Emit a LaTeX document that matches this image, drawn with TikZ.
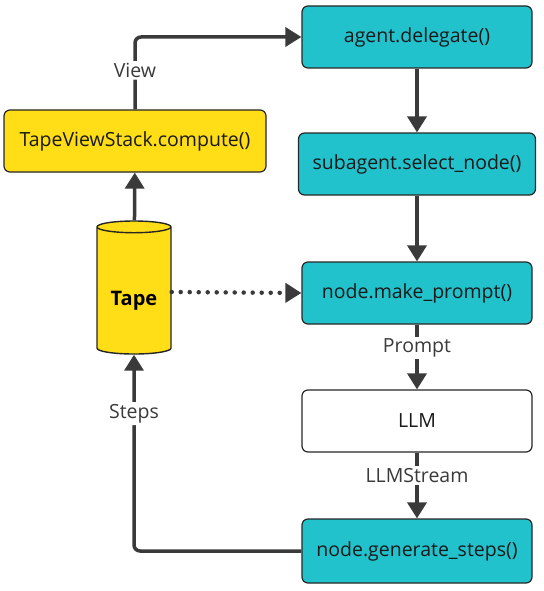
\documentclass[tikz,border=0pt]{standalone}
\usepackage{fontspec}
\setmainfont{Open Sans}
\usetikzlibrary{positioning, arrows.meta, shapes.geometric}
\definecolor{tealbox}{HTML}{22C2CC}
\definecolor{yellowbox}{HTML}{FFDD17}
\definecolor{linegray}{HTML}{3A3A3A}

\begin{document}
\begin{tikzpicture}[x=1pt, y=-1pt,
  box/.style={draw=black!85, line width=1.2pt, rounded corners=6pt, minimum width=230pt, minimum height=62pt, text=black!90, font=\fontsize{19.5}{23}\selectfont},
  func/.style={box, fill=tealbox},
  link/.style={draw=linegray, line width=3.5pt, -{Triangle[length=16pt, width=19pt]}},
  lbl/.style={fill=white, text=linegray, inner sep=2pt, font=\fontsize{19.5}{23}\selectfont}]
\useasboundingbox (0,0) rectangle (543,591);

\node[func] (delegate) at (417,37) {agent.delegate()};
\node[func, minimum width=237pt] (select) at (417,164) {subagent.select\_node()};
\node[func] (prompt) at (417,293) {node.make\_prompt()};
\node[box, fill=white] (llm) at (417,421) {LLM};
\node[func, minimum height=64pt] (generate) at (417,551) {node.generate\_steps()};
\node[box, fill=yellowbox, minimum width=262pt] (compute) at (135,141) {TapeViewStack.compute()};
\node[draw=black!85, line width=1.4pt, fill=yellowbox, cylinder, shape border rotate=90, aspect=0.22, minimum width=74pt, minimum height=133pt, font=\fontsize{20}{24}\selectfont\bfseries] (tape) at (134,292) {\raisebox{-13pt}[0pt][0pt]{Tape}};

\draw[link] (tape) -- (compute);
\draw[link, rounded corners=6pt] (compute.north) |- node[lbl, pos=0.27] {View} (delegate.west);
\draw[link] (delegate) -- (select);
\draw[link] (select) -- (prompt);
\draw[link] (prompt) -- node[lbl, pos=0.36] {Prompt} (llm);
\draw[link] (llm) -- node[lbl, pos=0.35] {LLMStream} (generate);
\draw[link, rounded corners=6pt] (generate.west) -| node[lbl, pos=0.85] {Steps} (tape.south);
\draw[link, line width=4.5pt, line cap=round, dash pattern=on 0pt off 9pt] (tape.east) -- (prompt.west);
\end{tikzpicture}
\end{document}
